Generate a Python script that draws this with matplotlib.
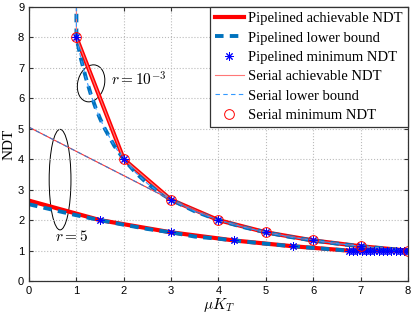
import matplotlib
matplotlib.use('Agg')
from matplotlib import pyplot as plt
from matplotlib.patches import Ellipse

plt.rcParams['mathtext.fontset'] = 'cm'

# r = 1e-3 (pipelined and serial coincide)
pipe_hi_x = [1, 2, 3, 4, 5, 6, 7, 8]
pipe_hi_y = [8.0, 4.0, 2.667, 2.0, 1.6, 1.333, 1.143, 1.0]
lb_hi_x = [1, 1, 1.1, 1.2, 1.3, 1.4, 1.5, 1.6, 1.8, 2, 2.25, 2.5, 2.75, 3, 3.5, 4, 4.5, 5, 5.5, 6, 6.5, 7, 7.5, 8]
lb_hi_y = [9.6, 8.0, 7.27, 6.67, 6.15, 5.71, 5.33, 5.0, 4.44, 4.0, 3.56, 3.2, 2.91, 2.667, 2.29, 2.0, 1.78, 1.6, 1.45, 1.333, 1.23, 1.143, 1.07, 1.0]
ser_hi_x = [1, 1, 2, 3, 4, 5, 6, 7, 8]
ser_hi_y = [9.6, 8.0, 4.0, 2.667, 2.0, 1.6, 1.333, 1.143, 1.0]

# r = 5
pipe_lo_x = [0, 1.5, 3, 4.33, 5.57, 6.75, 8]
pipe_lo_y = [2.64, 2.0, 1.6, 1.333, 1.143, 1.0, 1.0]
lb_lo_x = [0, 0.5, 1, 1.5, 2, 2.5, 3, 3.5, 4, 4.5, 5, 5.5, 6, 6.5, 6.75, 8]
lb_lo_y = [2.52, 2.34, 2.16, 2.0, 1.85, 1.71, 1.6, 1.46, 1.39, 1.305, 1.225, 1.153, 1.087, 1.028, 1.0, 1.0]
ser_lo_x = [0, 3, 4, 5, 6, 7, 8]
ser_lo_y = [5.05, 2.667, 2.0, 1.6, 1.333, 1.143, 1.0]
serlb_lo_x = [0, 3, 3.5, 4, 4.5, 5, 5.5, 6, 6.5, 7, 7.5, 8]
serlb_lo_y = [5.05, 2.667, 2.29, 2.0, 1.78, 1.6, 1.45, 1.333, 1.23, 1.143, 1.07, 1.0]

# minimum NDT markers
star_x = [1, 2, 3, 4, 5, 6, 7, 8, 1.5, 3, 4.33, 5.57,
          6.75, 6.84, 6.93, 7.02, 7.11, 7.2, 7.29, 7.38, 7.47, 7.56, 7.65, 7.74, 7.83, 7.92, 8.0]
star_y = [8.0, 4.0, 2.667, 2.0, 1.6, 1.333, 1.143, 1.0, 2.0, 1.6, 1.333, 1.143,
          1, 1, 1, 1, 1, 1, 1, 1, 1, 1, 1, 1, 1, 1, 1]
circ_x = [1, 2, 3, 4, 5, 6, 7, 8]
circ_y = [8.0, 4.0, 2.667, 2.0, 1.6, 1.333, 1.143, 1.0]

red = '#FF0000'
blue = '#0072BD'

fig = plt.figure(figsize=(4.15, 3.13), dpi=100)
ax = fig.add_axes([0.070, 0.102, 0.913, 0.876])

l1, = ax.plot(pipe_hi_x, pipe_hi_y, color=red, lw=3.0, label='Pipelined achievable NDT')
ax.plot(pipe_lo_x, pipe_lo_y, color=red, lw=3.0)
l2, = ax.plot(lb_hi_x, lb_hi_y, color=blue, lw=2.8, ls=(0, (2.2, 1.6)), label='Pipelined lower bound')
ax.plot(lb_lo_x, lb_lo_y, color=blue, lw=2.8, ls=(0, (2.2, 1.6)))
l4, = ax.plot(ser_hi_x, ser_hi_y, color='#FF7777', lw=0.8, label='Serial achievable NDT')
ax.plot(ser_lo_x, ser_lo_y, color='#FF3333', lw=0.8)
l5, = ax.plot(lb_hi_x, lb_hi_y, color='#3399FF', lw=0.8, ls=(0, (4, 3)), label='Serial lower bound')
ax.plot(serlb_lo_x, serlb_lo_y, color='#3A7FD0', lw=0.8, ls=(0, (4, 3)))
l3, = ax.plot(star_x, star_y, ls='none', marker=(8, 2, 0), ms=6, color='#0000FF',
              mew=0.7, label='Pipelined minimum NDT')
l6, = ax.plot(circ_x, circ_y, ls='none', marker='o', ms=7, mfc='none', mec=red,
              mew=0.7, label='Serial minimum NDT')

ax.add_patch(Ellipse((1.31, 6.49), 0.57, 1.22, angle=-6, fill=False, ec='black', lw=0.7))
ax.add_patch(Ellipse((0.655, 3.33), 0.46, 3.3, fill=False, ec='black', lw=0.7))
ax.text(1.72, 6.62, r'$r = 10^{-3}$', fontsize=11, va='center')
ax.text(0.55, 1.47, r'$r = 5$', fontsize=11, va='center')

ax.set_xlim(0, 8)
ax.set_ylim(0, 9)
ax.set_xticks(range(0, 9))
ax.set_yticks(range(0, 10))
ax.grid(True, linestyle=':', color='#BBBBBB', lw=0.8)
ax.tick_params(direction='in', length=3, labelsize=8, top=True, right=True, color='#333333')
for s in ax.spines.values():
    s.set_color('#333333')
    s.set_linewidth(0.9)
for t in ax.get_xticklabels() + ax.get_yticklabels():
    t.set_family('Liberation Sans')

ax.set_xlabel(r'$\mu K_T$', fontsize=11)
ax.xaxis.set_label_coords(0.5, -0.055, transform=ax.transAxes)
ax.xaxis.label.set_va('top')
ax.set_ylabel('NDT', fontsize=11, family='Liberation Serif', labelpad=2)

leg = ax.legend(handles=[l1, l2, l3, l4, l5, l6], loc='upper right', borderaxespad=0,
                prop={'family': 'Liberation Serif', 'size': 10.5}, fancybox=False,
                framealpha=1, edgecolor='#333333', handlelength=2.0, handletextpad=0.3,
                labelspacing=0.42, borderpad=0.35)
leg.get_frame().set_linewidth(0.9)

fig.savefig('out.png', dpi=100)
